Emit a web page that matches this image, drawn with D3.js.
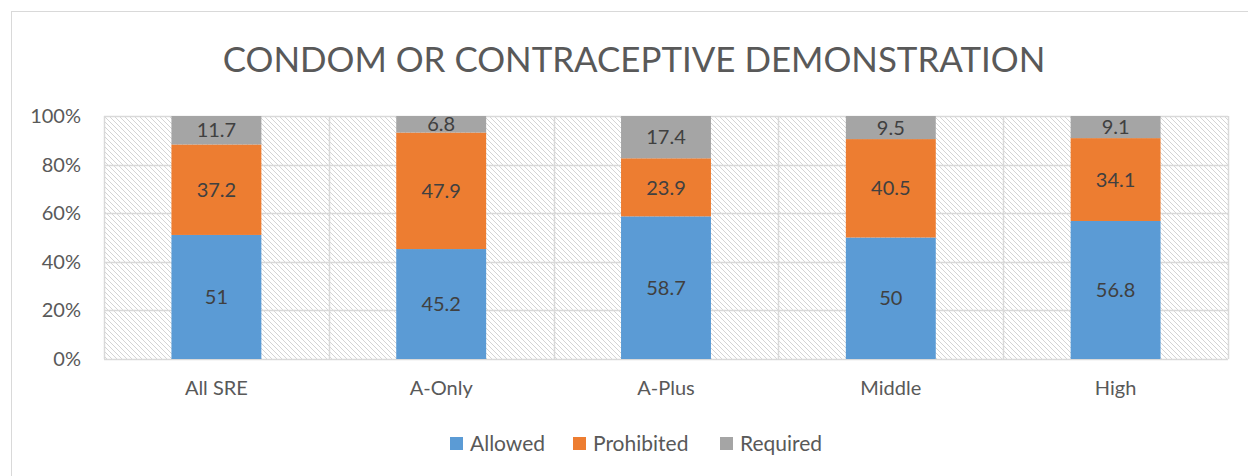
<!DOCTYPE html>
<html>
<head>
<meta charset="utf-8">
<script src="https://cdn.jsdelivr.net/npm/d3@7"></script>
<style>
  body { margin: 0; background: #fff; }
  text { font-family: Lato, "Liberation Sans", sans-serif; }
</style>
</head>
<body>
<div id="chart"></div>
<script>
// 데이터
const categories = ["All SRE", "A-Only", "A-Plus", "Middle", "High"];
const seriesNames = ["Allowed", "Prohibited", "Required"];
const allowed = [51, 45.2, 58.7, 50, 56.8];
const prohibited = [37.2, 47.9, 23.9, 40.5, 34.1];
const required = [11.7, 6.8, 17.4, 9.5, 9.1];
const yTicks = [0, 0.2, 0.4, 0.6, 0.8, 1];
const colors = ["#5B9BD5", "#ED7D31", "#A5A5A5"];

const W = 1248, H = 476;
const margin = {top: 116, right: 20, bottom: 117, left: 104};
const width = 1228 - margin.left;
const height = 359 - margin.top;

const svg = d3.select("#chart").append("svg")
    .attr("width", W).attr("height", H);

// 빗금 패턴
const defs = svg.append("defs");
const pat = defs.append("pattern")
    .attr("id", "hatch")
    .attr("patternUnits", "userSpaceOnUse")
    .attr("width", 5).attr("height", 5);
pat.append("path")
    .attr("d", "M-1,-1 L6,6 M-1,4 L1,6 M4,-1 L6,1")
    .attr("stroke", "#d4d4d4").attr("stroke-width", 1);

// 바깥 테두리
svg.append("rect")
    .attr("x", 11.5).attr("y", 11.5)
    .attr("width", W + 20).attr("height", H + 20)
    .attr("fill", "none").attr("stroke", "#d9d9d9");

// 제목
const title = svg.append("text")
    .attr("x", 634).attr("y", 72)
    .attr("text-anchor", "middle")
    .attr("fill", "#595959")
    .attr("font-size", 40)
    .text("CONDOM OR CONTRACEPTIVE DEMONSTRATION");
const tw = title.node().getComputedTextLength();
title.attr("font-size", 40 * 823 / tw);

const g = svg.append("g").attr("transform", `translate(${margin.left},${margin.top})`);

const x = d3.scaleBand().domain(categories).range([0, width]).paddingInner(0).paddingOuter(0);
const y = d3.scaleLinear().domain([0, 1]).range([height, 0]);

const table = categories.map((c, i) => ({
    cat: c, Allowed: allowed[i], Prohibited: prohibited[i], Required: required[i]
}));
const stacked = d3.stack().keys(seriesNames).offset(d3.stackOffsetExpand)(table);

// 플롯 영역 배경
g.append("rect")
    .attr("width", width).attr("height", height)
    .attr("fill", "url(#hatch)");

// 격자선
g.selectAll(".hgrid").data(yTicks).enter().append("line")
    .attr("x1", 0).attr("x2", width)
    .attr("y1", d => Math.round(y(d)) + 0.5).attr("y2", d => Math.round(y(d)) + 0.5)
    .attr("stroke", "#d9d9d9").attr("stroke-width", 1.5);
g.selectAll(".vgrid").data(categories.concat(["end"])).enter().append("line")
    .attr("x1", (d, i) => Math.round(i * x.bandwidth()) + 0.5)
    .attr("x2", (d, i) => Math.round(i * x.bandwidth()) + 0.5)
    .attr("y1", 0).attr("y2", height)
    .attr("stroke", "#d9d9d9").attr("stroke-width", 1.5);

// 막대
const barW = x.bandwidth() * 0.4;
const layers = g.selectAll(".layer").data(stacked).enter().append("g")
    .attr("fill", (d, i) => colors[i]);
layers.selectAll("rect").data(d => d).enter().append("rect")
    .attr("x", d => x(d.data.cat) + (x.bandwidth() - barW) / 2)
    .attr("width", barW)
    .attr("y", d => y(d[1]))
    .attr("height", d => y(d[0]) - y(d[1]));

// 값 레이블
stacked.forEach(layer => {
    g.selectAll(null).data(layer).enter().append("text")
        .attr("x", d => x(d.data.cat) + x.bandwidth() / 2)
        .attr("y", d => (y(d[0]) + y(d[1])) / 2)
        .attr("dy", "0.36em")
        .attr("text-anchor", "middle")
        .attr("font-size", 20)
        .attr("fill", "#404040")
        .text(d => d.data[layer.key]);
});

// Y축
const yAxis = g.append("g").call(d3.axisLeft(y).tickValues(yTicks).tickFormat(d3.format(".0%")).tickSize(0).tickPadding(23));
yAxis.select(".domain").remove();
yAxis.selectAll("text").attr("font-size", 20).attr("fill", "#595959")
    .style("font-family", "Lato, 'Liberation Sans', sans-serif");

// X축
const xAxis = g.append("g").attr("transform", `translate(0,${height})`)
    .call(d3.axisBottom(x).tickSize(0).tickPadding(22));
xAxis.select(".domain").remove();
xAxis.selectAll("text").attr("font-size", 20).attr("fill", "#595959")
    .style("font-family", "Lato, 'Liberation Sans', sans-serif");

// 범례
const legendX = [450, 573, 720];
const legend = svg.append("g");
seriesNames.forEach((s, i) => {
    legend.append("rect")
        .attr("x", legendX[i]).attr("y", 437)
        .attr("width", 13).attr("height", 13)
        .attr("fill", colors[i]);
    legend.append("text")
        .attr("x", legendX[i] + 20).attr("y", 451)
        .attr("font-size", 21).attr("fill", "#595959")
        .text(s);
});
</script>
</body>
</html>
